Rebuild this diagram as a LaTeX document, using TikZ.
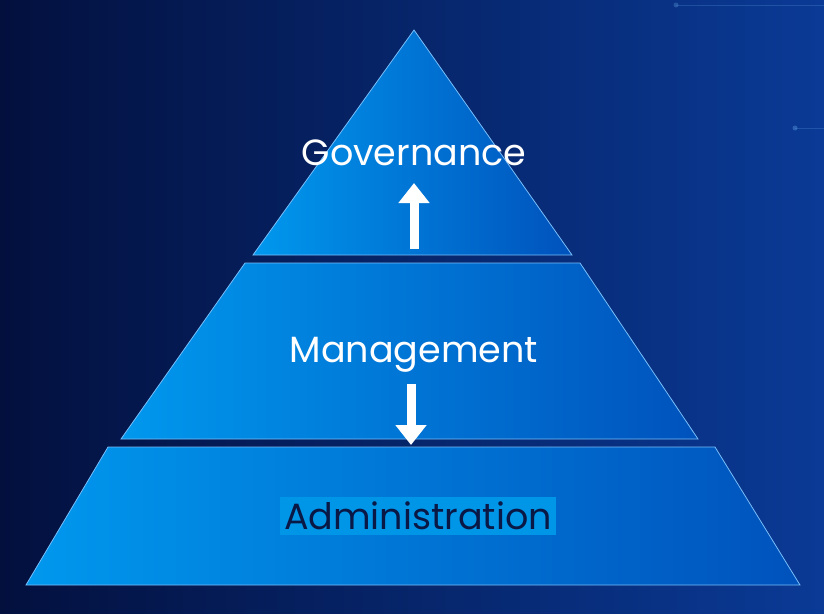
\documentclass[tikz,border=0pt]{standalone}
\usepackage{fontspec}
\setmainfont{Poppins}
\usetikzlibrary{arrows.meta,shadings}
\definecolor{bgL}{RGB}{3,16,62}
\definecolor{bgR}{RGB}{10,58,150}
\definecolor{pyL}{RGB}{0,152,238}
\definecolor{pyR}{RGB}{0,82,188}
\definecolor{edge}{RGB}{120,190,250}
\definecolor{hilite}{RGB}{0,150,232}
\definecolor{navy}{RGB}{10,24,70}
\tikzset{
  tier/.style={left color=pyL, right color=pyR, draw=edge, line width=0.8pt},
  lbl/.style={text=white, font=\fontsize{36.5}{40}\selectfont, inner sep=0pt},
  flow/.style={draw=white, line width=9pt, -{Triangle[width=30pt,length=20pt]}}
}
\begin{document}
\begin{tikzpicture}[x=1pt,y=-1pt]
\useasboundingbox (0,0) rectangle (824,613);
\shade[left color=bgL, right color=bgR] (0,0) rectangle (824,613);
% faint decorations top right
\draw[edge, opacity=0.2, line width=1pt] (676,5) -- (824,5);
\draw[edge, opacity=0.2, line width=1pt] (795,128) -- (824,128);
\fill[edge, opacity=0.3] (795,128) circle (2.5);
\fill[edge, opacity=0.25] (676,5) circle (2.5);
% tiers
\path[tier] (414,30) -- (572,255) -- (253,255) -- cycle;
\path[tier] (245,263) -- (580,263) -- (698,439) -- (121,439) -- cycle;
\path[tier] (108,447) -- (715,447) -- (800,585) -- (26,585) -- cycle;
% labels
\node[lbl] (gov) at (414,153) {Governance};
\node[lbl] (man) at (414,355) {Management};
\node[lbl, text=navy, fill=hilite, inner xsep=4pt, inner ysep=5pt] (adm) at (418,516) {Administration};
% arrows
\coordinate (upS) at (414,249);
\coordinate (upE) at (414,183);
\coordinate (dnS) at (411,384);
\coordinate (dnE) at (411,445);
\draw[flow] (upS) -- (upE);
\draw[flow] (dnS) -- (dnE);
\end{tikzpicture}
\end{document}
